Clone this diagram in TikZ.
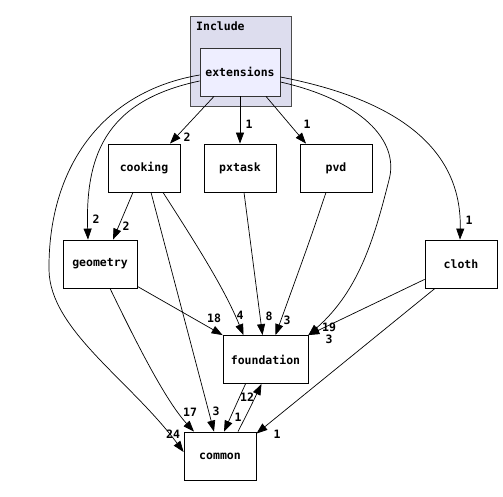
\documentclass[tikz,border=0pt]{standalone}
\usepackage{fontspec}
\setmainfont{DejaVu Sans Mono}
\usetikzlibrary{arrows.meta}

\definecolor{clusterfill}{HTML}{DDDDEE}
\definecolor{extfill}{HTML}{EEEEFF}

\begin{document}
\begin{tikzpicture}[x=1pt,y=-1pt,
		font=\bfseries\fontsize{11.5}{13}\selectfont,
		dir/.style={draw=black,fill=white,line width=0.8pt,minimum width=72pt,minimum height=48pt,inner sep=0pt},
		dep/.style={-{Triangle[length=11pt,width=8pt]},line width=0.7pt},
		num/.style={inner sep=0pt}]
		\useasboundingbox (0,0) rectangle (503,497);
		
		% the Include cluster
		\node[draw=black!70,fill=clusterfill,line width=0.8pt,minimum width=101pt,minimum height=90pt,inner sep=0pt] (incl) at (240.5,61) {};
		\node[anchor=west,inner sep=0pt] (incllabel) at (196,26) {Include};
		\node[dir,fill=extfill,draw=black!80,minimum width=80pt] (ext) at (240,72) {extensions};
		
		\node[dir] (cook) at (144,168) {cooking};
		\node[dir] (px) at (240,168) {pxtask};
		\node[dir] (pvd) at (336,168) {pvd};
		\node[dir,minimum width=74pt] (geo) at (100,264) {geometry};
		\node[dir] (cloth) at (461,264) {cloth};
		\node[dir,minimum width=85pt] (found) at (265.5,359.5) {foundation};
		\node[dir] (com) at (220,456) {common};
		
		% from extensions
		\draw[dep] ([xshift=-26pt]ext.south) -- ([xshift=26pt]cook.north);
		\draw[dep] (ext.south) -- (px.north);
		\draw[dep] ([xshift=26pt]ext.south) -- ([xshift=-30pt]pvd.north);
		\draw[dep] ([yshift=-9pt]ext.west) .. controls (110,100) and (85,150) .. ([xshift=-12pt]geo.north);
		\draw[dep] ([yshift=-3pt]ext.west) .. controls (100,92) and (48,170) .. (49,270)
		.. controls (50,330) and (130,380) .. ([yshift=4pt]com.west);
		\draw[dep] ([yshift=-5pt]ext.east) .. controls (400,100) and (462,150) .. ([xshift=-1pt]cloth.north);
		\draw[dep] ([yshift=-10pt]ext.east) .. controls (360,100) and (400,140) .. (389,180)
		.. controls (375,235) and (360,290) .. (found.north east);
		
		% the rest
		\draw[dep] ([xshift=-11pt]cook.south) -- ([xshift=13pt]geo.north);
		\draw[dep] ([xshift=19pt]cook.south) .. controls (200,250) and (225,290) .. ([xshift=-22pt]found.north);
		\draw[dep] ([xshift=7pt]cook.south) -- ([xshift=-6pt]com.north);
		\draw[dep] ([xshift=4pt]px.south) -- ([xshift=-3pt]found.north);
		\draw[dep] ([xshift=-10pt]pvd.south) .. controls (310,240) .. ([xshift=10pt]found.north);
		\draw[dep] ([yshift=2pt]geo.south east) -- (found.north west);
		\draw[dep] ([xshift=10pt]geo.south) .. controls (135,340) and (165,400) .. ([xshift=-26pt]com.north);
		\draw[dep] ([yshift=9pt]cloth.south west) -- (found.north east);
		\draw[dep] ([xshift=-26pt]cloth.south) -- ([yshift=-2pt]com.north east);
		\draw[dep] ([xshift=-20pt]found.south) .. controls (236,405) .. ([xshift=4pt]com.north);
		\draw[dep] ([xshift=18pt]com.north) .. controls (250,408) .. ([xshift=-4pt]found.south);
		
		% edge counts
		\node[num] (n1) at (187,137) {2};
		\node[num] (n2) at (249,124) {1};
		\node[num] (n3) at (307,124) {1};
		\node[num] (n4) at (96,219) {2};
		\node[num] (n5) at (126,226) {2};
		\node[num] (n6) at (469,220) {1};
		\node[num] (n7) at (214,318) {18};
		\node[num] (n8) at (240,315) {4};
		\node[num] (n9) at (269,316) {8};
		\node[num] (n10) at (287,320) {3};
		\node[num] (n11) at (329,327) {19};
		\node[num] (n12) at (329,339) {3};
		\node[num] (n13) at (247,397) {12};
		\node[num] (n14) at (238,417) {1};
		\node[num] (n15) at (216,411) {3};
		\node[num] (n16) at (190,412) {17};
		\node[num] (n17) at (173,434) {24};
		\node[num] (n18) at (277,434) {1};
	\end{tikzpicture}
\end{document}
